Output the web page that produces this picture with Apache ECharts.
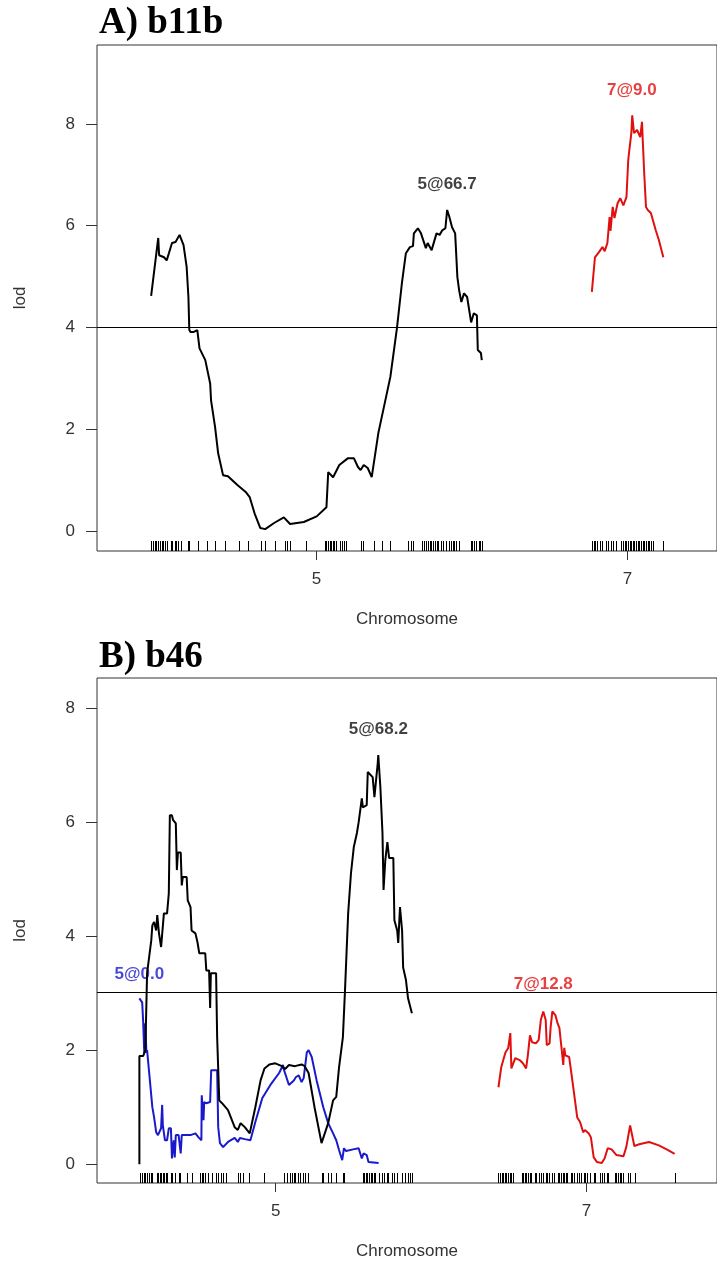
<!DOCTYPE html>
<html>
<head>
<meta charset="utf-8">
<script src="https://cdn.jsdelivr.net/npm/echarts@6/dist/echarts.min.js"></script>
<style>
  html, body { margin: 0; padding: 0; background: #fff; }
  #main { width: 717px; height: 1263px; }
</style>
</head>
<body>
<div id="main"></div>
<script>
// chromosomes shown and their lengths (cM) in each cross
var chromNames = ['5', '7'];
var chromLenA = [74.5, 16.1];
var chromLenB = [77.8, 50.3];
var gapA = 24.8, gapB = 24.7;

// A) b11b : lod profiles [cM, lod]
var a5 = [[0,4.62],[1.6,5.76],[1.8,5.42],[2.9,5.38],[3.5,5.32],[4.0,5.46],[4.7,5.66],[5.5,5.68],[6.4,5.82],[7.3,5.62],[8.0,5.19],[8.4,4.6],[8.6,3.95],[8.9,3.91],[9.5,3.91],[10.4,3.95],[10.9,3.59],[12.2,3.36],[13.3,2.9],[13.5,2.57],[14.4,2.05],[15.1,1.53],[16.2,1.1],[17.3,1.08],[19.5,0.9],[21.3,0.77],[22.2,0.67],[23.3,0.35],[24.6,0.06],[25.7,0.04],[27.7,0.16],[29.9,0.27],[31.3,0.14],[34.4,0.18],[37.3,0.29],[39.5,0.47],[39.9,1.16],[41.0,1.06],[42.4,1.3],[44.3,1.43],[45.7,1.43],[46.6,1.26],[47.2,1.2],[47.9,1.3],[48.8,1.24],[49.7,1.06],[51.2,1.93],[53.9,3.03],[55.4,4.0],[56.5,4.87],[57.4,5.46],[58.3,5.58],[59.0,5.6],[59.2,5.85],[60.1,5.95],[60.8,5.85],[61.9,5.56],[62.3,5.66],[63.2,5.52],[64.3,5.85],[65.0,5.82],[65.6,5.91],[66.3,5.95],[66.7,6.31],[67.2,6.17],[67.8,5.97],[68.5,5.85],[69.0,4.99],[69.4,4.73],[69.9,4.5],[70.5,4.67],[71.2,4.6],[72.1,4.1],[72.7,4.28],[73.4,4.24],[73.6,3.56],[74.3,3.5],[74.5,3.36]];
var a7 = [[0,4.7],[0.7,5.38],[1.6,5.48],[2.4,5.58],[2.9,5.5],[3.5,5.66],[4.0,6.17],[4.2,5.9],[4.7,6.37],[5.1,6.15],[5.8,6.44],[6.4,6.54],[7.1,6.4],[7.8,6.56],[8.2,7.29],[8.4,7.45],[8.9,7.82],[9.1,8.17],[9.5,7.82],[10.2,7.88],[10.9,7.74],[11.3,8.04],[11.5,7.62],[11.8,7.03],[12.2,6.37],[12.6,6.31],[13.3,6.25],[14.4,5.91],[15.1,5.72],[16.1,5.38]];
var markersA5 = [0,0.4,0.8,1.2,1.6,1.9,2.1,2.5,2.7,3.1,3.6,4.4,4.7,5.3,5.7,6.1,6.7,8.4,8.6,10.6,12.5,14.3,16.7,19.9,21.9,24.7,25.6,27.8,30.1,30.6,31.3,35.0,39.1,39.5,39.8,40.2,40.6,40.9,41.3,41.7,42.6,43.0,43.5,43.9,47.2,47.7,50.2,52.0,53.9,57.9,58.5,59.1,61.1,61.5,62.0,62.4,62.8,63.1,63.5,63.9,64.3,64.6,65.2,65.4,65.7,66.5,67.2,67.6,68.0,68.3,68.7,69.4,72.0,72.4,72.8,73.1,73.8,74.2,74.5];
var markersA7 = [0,0.4,0.7,1.1,1.8,2.2,3.3,3.7,4.4,4.8,5.5,6.5,7.0,7.4,7.8,8.1,8.5,8.9,9.2,9.6,10.0,10.4,10.7,11.1,11.5,11.8,12.2,12.6,12.9,13.3,13.7,16.1];
var thresholdA = 4.0;
var peakTextA = ['5@66.7', '7@9.0'];
var peakChromA = [0, 1];
var peakPosA = [66.7, 9.0];
var peakLodA = [6.82, 8.66];

// B) b46
var b5 = [[0,0],[0,1.9],[1.1,1.9],[1.7,2.0],[2.2,3.35],[3.4,3.93],[3.7,4.19],[4.2,4.25],[4.8,4.1],[5.1,4.37],[5.6,4.05],[6.2,3.81],[7.0,4.4],[7.9,4.4],[8.4,4.75],[8.7,6.12],[9.3,6.12],[9.6,6.04],[10.4,5.98],[10.7,5.16],[11.0,5.47],[11.8,5.47],[12.1,4.89],[12.4,5.04],[13.5,5.04],[13.8,4.63],[14.6,4.51],[14.9,4.1],[16.0,4.05],[16.6,3.89],[17.1,3.7],[18.8,3.7],[19.1,3.4],[19.9,3.4],[20.2,2.74],[20.4,3.35],[21.9,3.35],[22.2,2.23],[22.8,1.12],[23.6,1.07],[25.3,0.95],[27.2,0.65],[28.1,0.6],[28.9,0.72],[30.1,0.65],[31.5,0.54],[33.1,1.0],[34.6,1.47],[35.7,1.68],[37.1,1.75],[38.8,1.77],[40.7,1.72],[41.6,1.67],[42.7,1.74],[44.4,1.72],[46.3,1.75],[47.2,1.72],[48.3,1.6],[50.0,1.0],[52.0,0.37],[53.9,0.72],[55.3,1.12],[56.2,1.18],[57.0,1.7],[58.1,2.23],[58.7,3.05],[59.6,4.4],[60.4,5.1],[61.2,5.56],[62.1,5.81],[62.6,6.0],[63.5,6.42],[63.8,6.26],[64.9,6.3],[65.2,6.88],[65.7,6.88],[66.6,6.79],[67.1,6.44],[67.7,6.82],[68.0,7.0],[68.2,7.18],[68.8,6.61],[69.4,5.81],[69.7,4.81],[70.2,5.33],[70.8,5.65],[71.3,5.37],[72.5,5.37],[72.8,4.28],[73.6,4.1],[73.9,3.88],[74.4,4.51],[75.0,4.1],[75.3,3.45],[76.1,3.23],[76.7,2.91],[77.8,2.65]];
var b5blue = [[0,2.91],[0.8,2.84],[1.1,2.47],[1.4,1.95],[1.7,2.47],[2.0,1.95],[2.2,2.0],[2.8,1.6],[3.7,1.0],[4.2,0.82],[4.8,0.56],[5.3,0.51],[6.2,0.63],[6.5,1.04],[6.7,0.68],[7.3,0.42],[7.9,0.42],[8.4,0.63],[9.0,0.63],[9.3,0.1],[9.8,0.42],[10.1,0.12],[10.4,0.51],[11.2,0.51],[11.8,0.19],[12.1,0.51],[14.6,0.51],[16.0,0.54],[16.9,0.47],[17.7,0.42],[17.8,1.21],[18.3,0.77],[18.5,1.09],[19.1,1.07],[20.2,1.09],[20.5,1.65],[22.2,1.65],[22.5,0.65],[23.0,0.37],[23.9,0.3],[25.3,0.39],[27.2,0.46],[28.1,0.39],[28.7,0.46],[30.1,0.44],[31.7,0.42],[33.1,0.74],[35.1,1.16],[37.4,1.39],[39.9,1.6],[41.0,1.74],[41.3,1.65],[42.7,1.39],[44.1,1.47],[44.7,1.53],[45.5,1.56],[46.3,1.44],[46.9,1.51],[47.8,1.96],[48.3,2.0],[49.2,1.88],[50.6,1.47],[52.5,1.0],[53.9,0.72],[55.3,0.54],[56.2,0.42],[57.0,0.25],[57.9,0.07],[58.4,0.28],[59.0,0.23],[61.0,0.26],[62.6,0.28],[63.5,0.1],[64.0,0.19],[64.9,0.16],[65.4,0.04],[68.3,0.02]];
var b7 = [[0,1.35],[0.8,1.7],[2.0,1.96],[2.8,2.04],[3.4,2.3],[3.7,1.68],[4.8,1.86],[6.2,1.82],[7.0,1.77],[7.9,1.68],[8.4,1.91],[9.0,2.26],[9.6,2.14],[10.7,2.12],[11.5,2.18],[12.1,2.53],[12.8,2.68],[13.5,2.53],[13.8,2.09],[14.6,2.12],[14.9,2.4],[15.4,2.68],[16.3,2.61],[16.9,2.47],[17.4,2.39],[18.0,2.05],[18.5,1.74],[18.8,2.04],[19.1,1.91],[20.2,1.88],[21.1,1.47],[22.5,0.82],[23.3,0.74],[24.2,0.56],[24.7,0.6],[25.8,0.54],[26.4,0.47],[27.2,0.12],[28.1,0.04],[29.5,0.02],[30.3,0.1],[31.2,0.28],[32.3,0.26],[33.7,0.16],[35.7,0.14],[36.5,0.3],[37.6,0.68],[38.8,0.32],[40.2,0.35],[43.0,0.39],[45.8,0.33],[48.3,0.25],[50.3,0.18]];
var markersB5 = [0.2,0.7,1.2,1.7,2.2,2.7,3.2,3.6,4.9,5.2,5.4,5.8,6.2,6.6,6.9,7.5,8.0,8.9,9.4,10.3,11.2,11.7,13.6,15.0,17.3,17.8,18.3,18.7,19.7,20.6,22.0,22.5,23.4,23.9,24.8,28.1,28.6,29.5,31.4,35.6,41.2,42.0,43.1,43.5,44.0,44.5,45.4,45.9,46.8,47.3,48.2,52.0,52.4,53.8,54.8,56.2,58.0,58.5,63.7,64.2,64.6,65.1,65.5,66.0,66.5,66.9,67.4,68.3,69.3,69.7,70.7,71.1,72.1,72.8,73.5,74.9,75.8,76.8,77.2,77.8];
var markersB7 = [0,0.5,0.9,1.4,1.9,2.3,2.8,3.3,3.7,4.2,6.6,7.0,7.5,8.0,8.4,8.9,9.4,10.3,10.8,11.7,12.2,12.6,13.6,14.0,14.5,15.4,15.9,16.9,17.3,17.8,18.3,18.7,19.2,19.7,20.6,21.1,21.7,22.3,22.9,23.6,24.3,24.8,25.3,26.2,27.2,27.6,29.0,29.5,30.0,30.9,31.4,33.3,33.7,34.2,34.6,35.1,35.6,37.0,37.5,38.9,50.3];
var thresholdB = 3.02;
var peakTextB = ['5@0.0', '5@68.2', '7@12.8'];
var peakChromB = [0, 0, 1];
var peakPosB = [0.0, 68.2, 12.8];
var peakLodB = [3.33, 7.63, 3.16];
var peakColorB = ['#1a1acc', '#111', '#e01010'];

var yTicks = [0, 2, 4, 6, 8];
var RED = '#e01010', BLUE = '#1a1acc', BLACK = '#000';

var chart = echarts.init(document.getElementById('main'));

function shift(points, off) {
	return points.map(function (p) { return [p[0] + off, p[1]]; });
}

// short tick lines standing on the bottom of the box, one per marker
function rugItem(params, api) {
	var p = api.coord([api.value(0), api.value(1)]);
	var x = Math.round(p[0]) + 0.5;
	return {
		type: 'line',
		shape: { x1: x, y1: p[1], x2: x, y2: p[1] - 10 },
		style: { stroke: '#000', lineWidth: 1 }
	};
}

function buildPanel(lens, gap) {
	var offsets = [0, lens[0] + gap];
	var centers = [lens[0] / 2, offsets[1] + lens[1] / 2];
	return { offsets: offsets, centers: centers };
}

var pA = buildPanel(chromLenA, gapA);
var pB = buildPanel(chromLenB, gapB);
var yMinA = -0.39, yMaxA = 9.55;
var yMinB = -0.33, yMaxB = 8.53;

function xAxisFor(idx, panel, min, max) {
	return {
		gridIndex: idx, type: 'value', min: min, max: max,
		name: 'Chromosome', nameLocation: 'middle', nameGap: 60,
		nameTextStyle: { fontFamily: 'Liberation Sans', fontSize: 17, color: '#333' },
		axisLine: { show: false, onZero: false },
		splitLine: { show: false },
		axisTick: { show: true, length: 9, customValues: panel.centers, lineStyle: { color: '#333' } },
		axisLabel: {
			customValues: panel.centers, margin: 20,
			fontFamily: 'Liberation Sans', fontSize: 17, color: '#333',
			formatter: function (v) {
				var k = Math.abs(v - panel.centers[0]) < Math.abs(v - panel.centers[1]) ? 0 : 1;
				return chromNames[k];
			}
		}
	};
}

function yAxisFor(idx, min, max) {
	return {
		gridIndex: idx, type: 'value', min: min, max: max,
		name: 'lod', nameLocation: 'middle', nameGap: 68,
		nameTextStyle: { fontFamily: 'Liberation Sans', fontSize: 17, color: '#333' },
		axisLine: { show: false, onZero: false },
		splitLine: { show: false },
		axisTick: { show: true, length: 11, customValues: yTicks, lineStyle: { color: '#333' } },
		axisLabel: { customValues: yTicks, margin: 22, fontFamily: 'Liberation Sans', fontSize: 17, color: '#333' }
	};
}

function lineSeries(idx, data, color, z) {
	return {
		type: 'line', xAxisIndex: idx, yAxisIndex: idx, data: data,
		showSymbol: false, symbol: 'none', z: z || 3, animation: false,
		lineStyle: { color: color, width: 2 }
	};
}

function rugSeries(idx, data) {
	return { type: 'custom', xAxisIndex: idx, yAxisIndex: idx, renderItem: rugItem, data: data, animation: false, silent: true };
}

function labelSeries(idx, items) {
	return {
		type: 'scatter', xAxisIndex: idx, yAxisIndex: idx, symbolSize: 1, z: 2,
		itemStyle: { color: 'transparent' }, silent: true, animation: false,
		label: {
			show: true, position: 'inside', fontFamily: 'Liberation Sans', fontSize: 17, fontWeight: 'bold',
			formatter: function (p) { return p.data.text; }
		},
		data: items
	};
}

function threshold(y) {
	return {
		silent: true, symbol: ['none', 'none'], label: { show: false },
		lineStyle: { color: '#000', width: 1, type: 'solid' },
		data: [{ yAxis: y }]
	};
}

var rugA = markersA5.map(function (x) { return [x, yMinA]; })
	.concat(markersA7.map(function (x) { return [x + pA.offsets[1], yMinA]; }));
var rugB = markersB5.map(function (x) { return [x, yMinB]; })
	.concat(markersB7.map(function (x) { return [x + pB.offsets[1], yMinB]; }));

var labelsA = peakTextA.map(function (t, k) {
	return { value: [peakPosA[k] + pA.offsets[peakChromA[k]], peakLodA[k]], text: t,
		label: { color: peakChromA[k] === 1 ? RED : '#111' } };
});
var labelsB = peakTextB.map(function (t, k) {
	return { value: [peakPosB[k] + pB.offsets[peakChromB[k]], peakLodB[k]], text: t,
		label: { color: peakColorB[k] } };
});

var a5line = lineSeries(0, a5, BLACK);
a5line.markLine = threshold(thresholdA);
var b5line = lineSeries(1, b5, BLACK, 4);
b5line.markLine = threshold(thresholdB);

var option = {
	backgroundColor: '#fff',
	animation: false,
	title: [
		{ text: 'A) b11b', left: 99, top: 5, padding: 0,
		  textStyle: { fontFamily: 'Liberation Serif', fontWeight: 'bold', fontSize: 37, color: '#000' } },
		{ text: 'B) b46', left: 99, top: 639, padding: 0,
		  textStyle: { fontFamily: 'Liberation Serif', fontWeight: 'bold', fontSize: 37, color: '#000' } }
	],
	grid: [
		{ left: 97, right: -10, top: 45, height: 506, show: true, borderColor: '#333', borderWidth: 1, backgroundColor: 'transparent' },
		{ left: 97, right: -10, top: 678, height: 505, show: true, borderColor: '#333', borderWidth: 1, backgroundColor: 'transparent' }
	],
	xAxis: [xAxisFor(0, pA, -12.2, 127.5), xAxisFor(1, pB, -12.1, 164.9)],
	yAxis: [yAxisFor(0, yMinA, yMaxA), yAxisFor(1, yMinB, yMaxB)],
	series: [
		a5line,
		lineSeries(0, shift(a7, pA.offsets[1]), RED),
		rugSeries(0, rugA),
		labelSeries(0, labelsA),
		lineSeries(1, b5blue, BLUE, 3),
		b5line,
		lineSeries(1, shift(b7, pB.offsets[1]), RED),
		rugSeries(1, rugB),
		labelSeries(1, labelsB)
	]
};

chart.setOption(option);
</script>
</body>
</html>
